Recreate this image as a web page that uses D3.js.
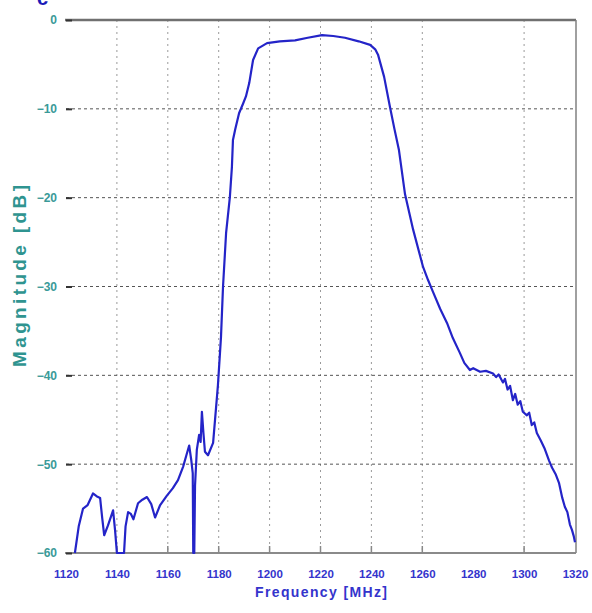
<!DOCTYPE html>
<html>
<head>
<meta charset="utf-8">
<script src="https://cdn.jsdelivr.net/npm/d3@7"></script>
<style>
  body { margin: 0; background: #fff; }
  svg { display: block; }
</style>
</head>
<body>
<div id="chart"></div>
<script>
var width = 592, height = 613;

// frequency response
var freqMHz = [1123.5, 1125, 1126.7, 1128.5, 1130.6, 1132, 1133.4, 1134.2, 1135, 1136.5,
  1138.5, 1139.3, 1140, 1142.8, 1143.4, 1144.4, 1145.5, 1146.5, 1148.3, 1150,
  1151.8, 1153.5, 1155, 1157, 1159.5, 1162, 1164, 1166, 1167.3, 1168.4,
  1169.2, 1169.8, 1170.0, 1170.4, 1170.7, 1171.4, 1172.3, 1172.9, 1173.4, 1174.0,
  1174.6, 1175.8, 1177.8, 1179.7, 1180.9, 1181.7, 1182.9, 1184.4, 1185.2, 1185.6,
  1186.5, 1188, 1189.6, 1190.7, 1192, 1193.5, 1195.5, 1199, 1204, 1210,
  1215, 1220.6, 1225, 1229.6, 1235, 1239.5, 1241.5, 1242.6, 1245, 1247.3,
  1249, 1250.8, 1253.2, 1256.4, 1260.3, 1262.3, 1264.2, 1267, 1269.7, 1272,
  1274.8, 1276.5, 1278.7, 1280, 1282.7, 1285, 1287.8, 1289, 1290, 1291.7,
  1292.5, 1293.5, 1294.5, 1295.6, 1296.5, 1297.5, 1298.5, 1299.5, 1301.1, 1302,
  1303, 1304, 1305, 1306.5, 1308, 1309.8, 1311, 1312.5, 1313.7, 1315,
  1316, 1317, 1318, 1318.8, 1319.5, 1320];
var magDB = [-60, -57, -55, -54.6, -53.3, -53.6, -53.8, -56, -58, -56.9,
  -55.2, -57.5, -60, -60, -57, -55.4, -55.6, -56.2, -54.4, -54,
  -53.7, -54.5, -56, -54.6, -53.6, -52.7, -51.8, -50.3, -49, -47.9,
  -49.5, -51, -60, -60, -52.4, -48.4, -46.7, -47.5, -44.1, -46.5,
  -48.6, -49, -47.6, -41.1, -35.7, -30, -24, -19.9, -16.5, -13.5,
  -12.3, -10.5, -9.4, -8.6, -7.1, -4.5, -3.2, -2.6, -2.4, -2.3,
  -2.0, -1.7, -1.8, -2.0, -2.4, -2.8, -3.3, -3.9, -6.4, -9.8,
  -12.2, -14.6, -19.6, -23.6, -27.8, -29.3, -30.6, -32.5, -34.1, -35.8,
  -37.5, -38.6, -39.4, -39.2, -39.6, -39.5, -39.8, -40.2, -39.9, -40.8,
  -40.4, -41.6, -41.2, -42.8, -42.1, -43.3, -42.9, -44.1, -44.5, -44.2,
  -45.6, -45.3, -46.5, -47.3, -48.2, -49.6, -50.4, -51.2, -52.1, -53.8,
  -54.8, -55.4, -56.8, -57.4, -58.1, -58.8];

var xTicks = [1120, 1140, 1160, 1180, 1200, 1220, 1240, 1260, 1280, 1300, 1320];
var xGrid = [1140, 1160, 1180, 1200, 1220, 1240, 1260, 1300];
var yTicks = [0, -10, -20, -30, -40, -50, -60];

var plotLeft = 66, plotRight = 575, plotTop = 20, plotBottom = 553;

var xScale = d3.scaleLinear().domain([1120, 1320]).range([plotLeft, plotRight]);
var yScale = d3.scaleLinear().domain([-60, 0]).range([plotBottom, plotTop]);

var svg = d3.select("#chart").append("svg")
  .attr("width", width)
  .attr("height", height);

svg.append("rect")
  .attr("width", width)
  .attr("height", height)
  .attr("fill", "#fff");

// cropped letter at the very top
svg.append("text")
  .text("c")
  .attr("x", 37)
  .attr("y", 5)
  .style("font-family", "Liberation Sans")
  .style("font-weight", 700)
  .style("font-size", "20px")
  .attr("fill", "#1a1ab8");

// grid lines
svg.append("g")
  .selectAll("line")
  .data(xGrid)
  .enter().append("line")
  .attr("x1", function(d) { return xScale(d); })
  .attr("x2", function(d) { return xScale(d); })
  .attr("y1", plotTop)
  .attr("y2", plotBottom)
  .attr("stroke", "#9a9a9a")
  .attr("stroke-width", 1)
  .attr("stroke-dasharray", "2,4");

svg.append("g")
  .selectAll("line")
  .data(yTicks.slice(1, 6))
  .enter().append("line")
  .attr("x1", plotLeft)
  .attr("x2", plotRight)
  .attr("y1", function(d) { return yScale(d); })
  .attr("y2", function(d) { return yScale(d); })
  .attr("stroke", "#555")
  .attr("stroke-width", 1)
  .attr("stroke-dasharray", "3,3");

// box (no left side)
svg.append("line")
  .attr("x1", plotLeft - 1).attr("x2", plotRight + 1)
  .attr("y1", plotTop).attr("y2", plotTop)
  .attr("stroke", "#707070").attr("stroke-width", 2.5);
svg.append("line")
  .attr("x1", plotRight + 1).attr("x2", plotRight + 1)
  .attr("y1", plotTop).attr("y2", plotBottom)
  .attr("stroke", "#808080").attr("stroke-width", 1.5);
svg.append("line")
  .attr("x1", plotLeft - 1).attr("x2", plotRight + 1)
  .attr("y1", plotBottom).attr("y2", plotBottom)
  .attr("stroke", "#8a8a8a").attr("stroke-width", 2);

// y axis
var yAxis = svg.append("g")
  .attr("transform", "translate(" + (plotLeft + 6) + ",0)")
  .call(d3.axisLeft(yScale)
    .tickValues(yTicks)
    .tickSize(6)
    .tickPadding(9)
    .tickFormat(d3.format("d")));
yAxis.select(".domain").remove();
yAxis.selectAll("line").attr("stroke", "#333").attr("stroke-width", 2);
yAxis.selectAll("text")
  .attr("fill", "#3a9a98")
  .style("font-family", "Liberation Sans")
  .style("font-weight", 700)
  .style("font-size", "12px");

// x axis
var xAxis = svg.append("g")
  .attr("transform", "translate(0," + plotBottom + ")")
  .call(d3.axisBottom(xScale)
    .tickValues(xTicks)
    .tickSize(0)
    .tickPadding(17)
    .tickFormat(d3.format("d")));
xAxis.select(".domain").remove();
xAxis.selectAll("text")
  .attr("fill", "#3434cc")
  .style("font-family", "Liberation Sans")
  .style("font-weight", 700)
  .style("font-size", "11.5px");

// small upward tick marks at the bottom
svg.append("g")
  .selectAll("line")
  .data(xGrid)
  .enter().append("line")
  .attr("x1", function(d) { return xScale(d); })
  .attr("x2", function(d) { return xScale(d); })
  .attr("y1", plotBottom)
  .attr("y2", plotBottom - 7)
  .attr("stroke", "#888")
  .attr("stroke-width", 1.5);

// axis titles
svg.append("text")
  .text("Magnitude [dB]")
  .attr("transform", "translate(26,276) rotate(-90)")
  .attr("text-anchor", "middle")
  .attr("textLength", 182)
  .attr("lengthAdjust", "spacing")
  .attr("fill", "#2f9490")
  .style("font-family", "Liberation Sans")
  .style("font-weight", 700)
  .style("font-size", "19px");

svg.append("text")
  .text("Frequency [MHz]")
  .attr("x", 321)
  .attr("y", 597)
  .attr("text-anchor", "middle")
  .attr("textLength", 132)
  .attr("lengthAdjust", "spacing")
  .attr("fill", "#3434cc")
  .style("font-family", "Liberation Sans")
  .style("font-weight", 700)
  .style("font-size", "14px");

// response curve
var pts = freqMHz.map(function(f, i) { return [f, magDB[i]]; });
var line = d3.line()
  .x(function(d) { return xScale(d[0]); })
  .y(function(d) { return yScale(d[1]); });

svg.append("path")
  .datum(pts)
  .attr("d", line)
  .attr("fill", "none")
  .attr("stroke", "#2424c8")
  .attr("stroke-width", 2.2)
  .attr("stroke-linejoin", "round");
</script>
</body>
</html>
